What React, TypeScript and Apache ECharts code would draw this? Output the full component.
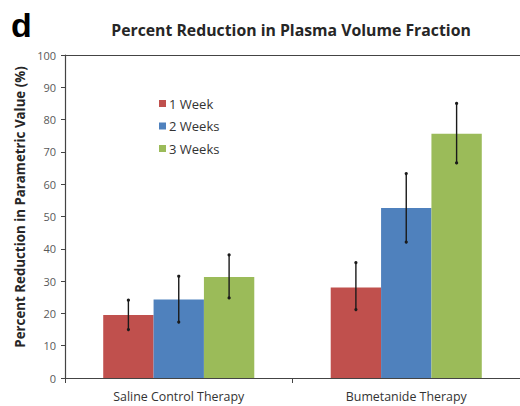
import React, { useEffect, useRef } from "react";
import * as echarts from "echarts";

const categories = ["Saline Control Therapy", "Bumetanide Therapy"];
const seriesNames = ["1 Week", "2 Weeks", "3 Weeks"];
const week1 = [19.5, 28.0];
const week2 = [24.3, 52.6];
const week3 = [31.3, 75.6];
const week1Low = [15.0, 21.2];
const week1High = [24.1, 35.7];
const week2Low = [17.3, 42.1];
const week2High = [31.5, 63.3];
const week3Low = [24.8, 66.6];
const week3High = [38.1, 85.0];
const yTicks = [0, 10, 20, 30, 40, 50, 60, 70, 80, 90, 100];

const colors = ["#C0504D", "#4F81BD", "#9BBB59"];
const CAT_GAP = 0.336;

export default function App() {
  const ref = useRef<HTMLDivElement>(null);
  useEffect(() => {
    if (!ref.current) return;
    const chart = echarts.init(ref.current, null, { renderer: "svg" });
    const values = [week1, week2, week3];
    const lows = [week1Low, week2Low, week3Low];
    const highs = [week1High, week2High, week3High];

    const barSeries = seriesNames.map((name, k) => ({
      name,
      type: "bar",
      data: values[k],
      itemStyle: { color: colors[k] },
      barGap: "0%",
      barCategoryGap: CAT_GAP * 100 + "%",
    }));

    const errSeries = seriesNames.map((name, k) => ({
      name: name + " error",
      type: "custom",
      z: 10,
      data: categories.map((_, i) => [i, lows[k][i], highs[k][i]]),
      renderItem: (params: any, api: any) => {
        const ci = api.value(0);
        const center = api.coord([ci, 0])[0];
        const catW = api.size([1, 0])[0];
        const barW = (catW * (1 - CAT_GAP)) / 3;
        const x = center + (k - 1) * barW;
        const yLow = api.coord([ci, api.value(1)])[1];
        const yHigh = api.coord([ci, api.value(2)])[1];
        const st = { stroke: "#1a1a1a", lineWidth: 1.4 };
        return {
          type: "group",
          children: [
            { type: "line", shape: { x1: x, y1: yLow, x2: x, y2: yHigh }, style: st },
            { type: "circle", shape: { cx: x, cy: yLow, r: 1.6 }, style: { fill: "#1a1a1a" } },
            { type: "circle", shape: { cx: x, cy: yHigh, r: 1.6 }, style: { fill: "#1a1a1a" } },
          ],
        };
      },
    }));

    chart.setOption({
      animation: false,
      textStyle: { fontFamily: "Open Sans" },
      title: {
        text: "Percent Reduction in Plasma Volume Fraction",
        left: 286,
        textAlign: "center",
        top: 17,
        textStyle: { fontSize: 15.8, fontWeight: "bold", color: "#262626", fontFamily: "Open Sans" },
      },
      graphic: [
        {
          type: "text",
          left: 11,
          top: 8,
          style: { text: "d", fontSize: 34, fontWeight: "bold", fill: "#000", fontFamily: "Liberation Sans" },
        },
      ],
      legend: {
        orient: "vertical",
        left: 154,
        top: 92,
        itemWidth: 7,
        itemHeight: 7,
        itemGap: 9.5,
        icon: "rect",
        data: seriesNames,
        textStyle: { fontSize: 13, color: "#333", fontFamily: "Open Sans", padding: [0, 0, 0, -2] },
      },
      grid: { left: 65, top: 55, width: 464, height: 323 },
      xAxis: [
        {
          type: "category",
          data: categories,
          axisLine: { lineStyle: { color: "#444", width: 1.2 } },
          axisTick: { show: true, length: 5, lineStyle: { color: "#444" } },
          axisLabel: { fontSize: 12.4, color: "#333", margin: 12, fontFamily: "Open Sans" },
        },
        {
          type: "category",
          data: categories,
          position: "top",
          axisLine: { show: true, lineStyle: { color: "#444", width: 1.2 } },
          axisTick: { show: false },
          axisLabel: { show: false },
        },
      ],
      yAxis: {
        type: "value",
        min: 0,
        max: 100,
        interval: 10,
        name: "Percent Reduction in Parametric Value (%)",
        nameLocation: "middle",
        nameGap: 36,
        nameTextStyle: { fontSize: 13.3, fontWeight: "bold", color: "#262626", fontFamily: "Open Sans", padding: [0, 0, 0, 19] },
        axisLine: { show: true, lineStyle: { color: "#444", width: 1.2 } },
        axisTick: { show: true, length: 4, lineStyle: { color: "#444" } },
        splitLine: { show: false },
        axisLabel: {
          fontSize: 11,
          color: "#595959",
          margin: 9,
          fontFamily: "Open Sans",
          formatter: (v: number) => (yTicks.includes(v) ? String(v) : ""),
        },
      },
      series: [...barSeries, ...errSeries],
    });
    return () => chart.dispose();
  }, []);
  return (
    <div
      ref={ref}
      style={{ position: "fixed", left: 0, top: 0, width: 520, height: 406, background: "#fff" }}
    />
  );
}
